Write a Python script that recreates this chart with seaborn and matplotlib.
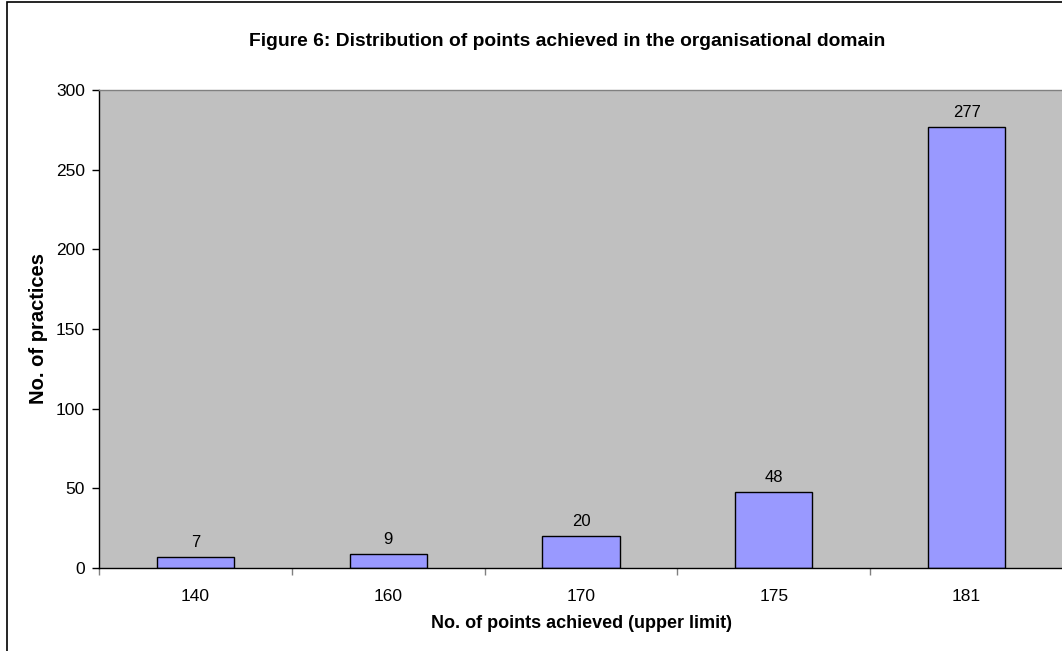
import numpy as np
import pandas as pd
import matplotlib
matplotlib.use('Agg')
import matplotlib.pyplot as plt
import seaborn as sns
from matplotlib.patches import Rectangle

# chart data
points_upper = ['140', '160', '170', '175', '181']
n_practices = [7, 9, 20, 48, 277]

sns.set_theme(style='white')
plt.rcParams['font.family'] = ['Liberation Sans', 'DejaVu Sans']
plt.rcParams['text.color'] = 'black'
plt.rcParams['axes.labelcolor'] = 'black'
plt.rcParams['xtick.color'] = 'black'
plt.rcParams['ytick.color'] = 'black'

df = pd.DataFrame({'points': points_upper, 'practices': n_practices})

fig = plt.figure(figsize=(10.62, 6.51), dpi=100)
# plot area runs off the right edge of the picture, as in the source
ax = fig.add_axes([99 / 1062, 1 - 568 / 651, (1063 - 99) / 1062, (568 - 90) / 651])
ax.set_facecolor('#C0C0C0')

sns.barplot(data=df, x='points', y='practices', color='#9999FF', width=0.40,
            edgecolor='black', linewidth=1, saturation=1, ax=ax)

# value labels above bars
for i, v in enumerate(n_practices):
    ax.annotate(str(v), (i, v), xytext=(0, 5), textcoords='offset points',
                ha='center', va='bottom', fontsize=12, color='black')

ax.set_xlim(-0.5, len(points_upper) - 0.5)
ax.set_ylim(0, 300)
ax.set_yticks(np.arange(0, 301, 50))

# category ticks between bars like Excel
ax.set_xticks(np.arange(-0.5, len(points_upper), 1), minor=True)
ax.tick_params(axis='x', which='major', length=0, pad=15, labelsize=12.5)
ax.tick_params(axis='x', which='minor', length=5, width=1, color='#808080', direction='out')
ax.tick_params(axis='y', length=5, width=1, color='black', direction='out', labelsize=12.5, pad=5)
ax.xaxis.set_ticks_position('bottom')
ax.yaxis.set_ticks_position('left')

for side in ['top', 'right']:
    ax.spines[side].set_color('#808080')
    ax.spines[side].set_linewidth(1)
for side in ['left', 'bottom']:
    ax.spines[side].set_color('black')
    ax.spines[side].set_linewidth(1)

ax.set_xlabel('No. of points achieved (upper limit)', fontsize=13, fontweight='bold', labelpad=8)
ax.set_ylabel('No. of practices', fontsize=14.5, fontweight='bold', labelpad=6)
ax.set_title('Figure 6: Distribution of points achieved in the organisational domain',
             fontsize=13.9, fontweight='bold', pad=32, x=(567 - 99) / (1063 - 99))

# outer chart frame
fig.patches.append(Rectangle((7 / 1062, -0.1), 1.2, 1.1 - 2 / 651, transform=fig.transFigure,
                             fill=False, edgecolor='black', linewidth=1.2))

fig.savefig('out.png', dpi=100)
